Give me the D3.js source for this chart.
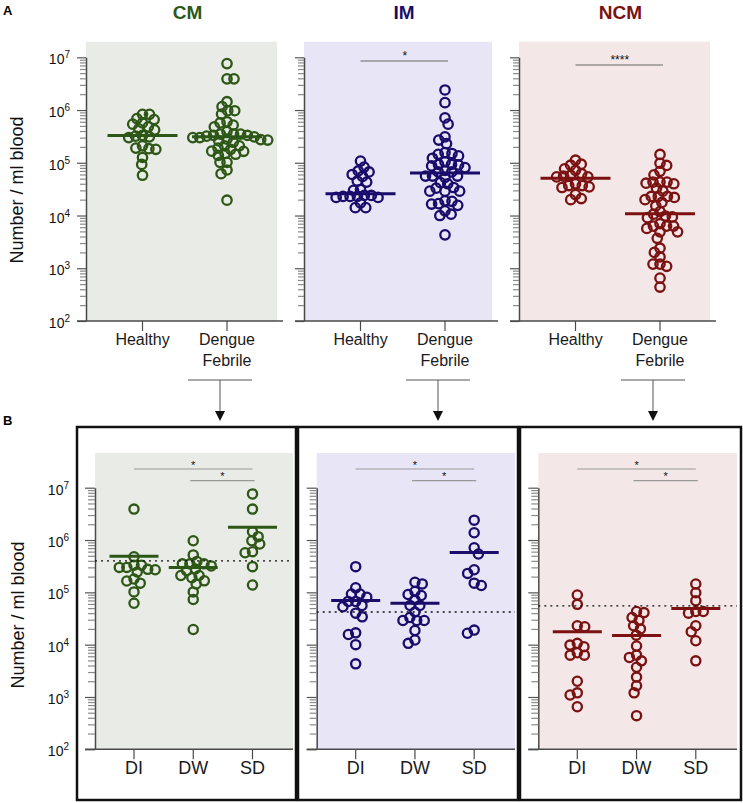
<!DOCTYPE html>
<html>
<head>
<meta charset="utf-8">
<script src="https://cdn.jsdelivr.net/npm/d3@7"></script>
<style>
  body { margin: 0; background: #fff; }
  svg { display: block; font-family: "Liberation Sans", Arial, sans-serif; }
</style>
</head>
<body>
<svg id="chart" width="743" height="803"></svg>
<script>
// ---- data (cells / ml blood) ----
const groups = ["CM", "IM", "NCM"];
const groupColors = ["#2d5716", "#190c6b", "#7b1111"];
const panelFills = ["#e9ebe6", "#e8e5f6", "#f3e7e8"];
const topCategories = ["Healthy", "Dengue Febrile"];
const subCategories = ["DI", "DW", "SD"];

const cmHealthy = [8.3e5, 6.9e5, 8.3e5, 6.6e5, 4.4e5, 5.4e5, 5.7e5, 4.8e5, 4.2e5, 3.1e5, 3.2e5, 3.3e5, 3.0e5, 1.9e5, 2.1e5, 1.85e5, 1.8e5, 1.26e5, 9.3e4, 5.8e4];
const imHealthy = [1.08e5, 8.3e4, 6.7e4, 7.0e4, 5.5e4, 6.0e4, 4.5e4, 4.3e4, 3.1e4, 3.0e4, 2.3e4, 2.2e4, 2.3e4, 2.2e4, 2.4e4, 2.3e4, 2.4e4, 1.73e4, 1.41e4, 1.41e4];
const ncmHealthy = [1.12e5, 9.0e4, 9.4e4, 7.7e4, 7.2e4, 5.4e4, 5.8e4, 5.6e4, 6.2e4, 5.4e4, 3.4e4, 3.7e4, 3.5e4, 3.7e4, 4.0e4, 2.0e4, 2.1e4, 2.5e4];

const cmDI = [3.9e6, 4.8e5, 3.0e5, 2.75e5, 3.3e5, 3.0e5, 3.3e5, 2.45e5, 2.7e5, 1.65e5, 1.8e5, 1.5e5, 1.02e5, 6.2e4];
const cmDW = [9.7e5, 5.2e5, 3.5e5, 3.5e5, 3.5e5, 3.9e5, 3.2e5, 2.1e5, 2.8e5, 2.1e5, 2.6e5, 1.66e5, 1.9e5, 1.45e5, 1.02e5, 7.3e4, 1.95e4];
const cmSD = [7.6e6, 3.9e6, 1.44e6, 1.16e6, 9.7e5, 8.4e5, 6.0e5, 5.7e5, 3.1e5, 1.38e5];
const imDI = [3.1e5, 1.22e5, 9.3e4, 8.1e4, 9.3e4, 6.7e4, 6.7e4, 5.6e4, 5.3e4, 4.0e4, 3.4e4, 1.68e4, 1.56e4, 1.0e4, 4.3e3];
const imDW = [1.56e5, 1.45e5, 1.04e5, 9.1e4, 8.7e4, 7.2e4, 5.6e4, 5.6e4, 4.2e4, 3.3e4, 2.9e4, 2.9e4, 2.9e4, 1.86e4, 1.23e4, 1.06e4];
const imSD = [2.4e6, 1.38e6, 7.1e5, 5.4e5, 2.7e5, 2.3e5, 1.5e5, 1.35e5, 1.9e4, 1.65e4];
const ncmDI = [8.9e4, 5.9e4, 2.2e4, 2.3e4, 9.8e3, 1.06e4, 9.1e3, 7.0e3, 6.3e3, 6.3e3, 2.0e3, 1.2e3, 1.09e3, 6.5e2];
const ncmDW = [4.1e4, 4.3e4, 3.3e4, 2.9e4, 2.0e4, 2.3e4, 1.52e4, 9.4e3, 6.3e3, 4.9e3, 5.7e3, 3.7e3, 2.4e3, 1.64e3, 1.2e3, 4.4e2];
const ncmSD = [1.44e5, 9.8e4, 6.9e4, 4.0e4, 4.3e4, 4.3e4, 2.3e4, 1.77e4, 1.19e4, 4.9e3];

// horizontal bars drawn over each column
const cmTopBars = [3.3e5, 3.1e5];
const imTopBars = [2.6e4, 6.4e4];
const ncmTopBars = [5.1e4, 1.08e4];
const cmSubBars = [4.9e5, 3.0e5, 1.75e6];
const imSubBars = [7.0e4, 6.2e4, 5.8e5];
const ncmSubBars = [1.77e4, 1.5e4, 4.9e4];
// dotted reference line in panel B
const referenceLevels = [4.0e5, 4.2e4, 5.5e4];

const topStars = ["", "*", "****"];
const subComparisons = [["DI", "SD", "*"], ["DW", "SD", "*"]];

const healthy = [cmHealthy, imHealthy, ncmHealthy];
const subsets = [[cmDI, cmDW, cmSD], [imDI, imDW, imSD], [ncmDI, ncmDW, ncmSD]];
const topBars = [cmTopBars, imTopBars, ncmTopBars];
const subBars = [cmSubBars, imSubBars, ncmSubBars];

// ---- layout ----
const svg = d3.select("#chart");
const topRow = {yTop: 57.3, yBottom: 321, bgTop: 41.7, axes: [86, 304, 519], rights: [277, 492, 710],
  catRange: [56.5, 141], labelGap: 16, tick: 9, xLeft: 9, xRight: 6, barW: 70, r: 4.7, gap: 7};
const subRow = {yTop: 487.7, yBottom: 749.3, bgTop: 453, axes: [95, 316.7, 538.3], rights: [293, 515, 737],
  catRange: [39, 157.5], labelGap: 26, tick: 10, xLeft: 10, xRight: 0, barW: 49, r: 4.6, gap: 7.5};
const boxes = [[77, 296], [298, 518], [520, 741]];

const isDecade = v => Math.abs(Math.log10(v) - Math.round(Math.log10(v))) < 1e-9;

// simple beeswarm: keep y, push x sideways until circles stop colliding
function swarm(values, y, cx, d) {
  const nodes = values.map(v => ({v, y: y(v)})).sort((a, b) => a.y - b.y);
  const placed = [];
  let side = 0;
  for (const n of nodes) {
    const cands = [0];
    for (const p of placed) {
      const dy = Math.abs(p.y - n.y);
      if (dy < d) {
        const dx = Math.sqrt(d * d - dy * dy);
        cands.push(p.dx + dx, p.dx - dx);
      }
    }
    cands.sort((a, b) => Math.abs(a) - Math.abs(b) || (side > 0 ? a - b : b - a));
    n.dx = cands.find(c => placed.every(p => (p.dx - c) ** 2 + (p.y - n.y) ** 2 >= d * d - 0.01));
    side += n.dx;
    placed.push(n);
  }
  return nodes.map(n => ({v: n.v, x: cx + n.dx, y: n.y}));
}

function drawPanel(row, i, cats, columns, bars, withLabels) {
  const x0 = row.axes[i], x1 = row.rights[i];
  const color = groupColors[i];
  const g = svg.append("g");
  const y = d3.scaleLog().domain([1e2, 1e7]).range([row.yBottom, row.yTop]);
  const x = d3.scalePoint().domain(cats).range([x0 + row.catRange[0], x0 + row.catRange[1]]);

  g.append("rect")
    .attr("x", x0).attr("y", row.bgTop)
    .attr("width", x1 - x0).attr("height", row.yBottom - row.bgTop)
    .attr("fill", panelFills[i]);

  // y axis
  const ax = g.append("g")
    .attr("transform", `translate(${x0},0)`)
    .call(d3.axisLeft(y).tickValues(y.ticks()).tickFormat("").tickSizeOuter(0));
  ax.select(".domain").attr("stroke", "#4a4a4a").attr("stroke-width", 1.5);
  ax.selectAll(".tick line")
    .attr("x2", d => isDecade(d) ? -row.tick : -row.tick + 3)
    .attr("stroke", d => isDecade(d) ? "#555" : "#8a8a8a")
    .attr("stroke-width", 1.2);
  if (withLabels) {
    const lab = g.append("g").selectAll("text")
      .data(y.ticks().filter(isDecade))
      .join("text")
        .attr("x", x0 - row.labelGap)
        .attr("y", d => y(d) + 7)
        .attr("text-anchor", "end")
        .attr("font-size", 14)
        .attr("fill", "#111");
    lab.append("tspan").text("10");
    lab.append("tspan").attr("dy", -6).attr("font-size", 10).text(d => Math.round(Math.log10(d)));
  }

  // x axis
  g.append("line")
    .attr("x1", x0 - row.xLeft).attr("x2", x1 + row.xRight)
    .attr("y1", row.yBottom).attr("y2", row.yBottom)
    .attr("stroke", "#4a4a4a").attr("stroke-width", 1.5);
  g.append("g").selectAll("line")
    .data(cats)
    .join("line")
      .attr("x1", d => x(d)).attr("x2", d => x(d))
      .attr("y1", row.yBottom).attr("y2", row.yBottom + 10)
      .attr("stroke", "#4a4a4a").attr("stroke-width", 1.2);

  // points
  cats.forEach((c, k) => {
    const pts = swarm(columns[k], y, x(c), row.gap);
    g.append("g").selectAll("circle")
      .data(pts)
      .join("circle")
        .attr("cx", d => d.x).attr("cy", d => d.y)
        .attr("r", row.r)
        .attr("fill", "none")
        .attr("stroke", color)
        .attr("stroke-width", 2.3);
  });

  // centre bars
  g.append("g").selectAll("line")
    .data(cats)
    .join("line")
      .attr("x1", d => x(d) - row.barW / 2).attr("x2", d => x(d) + row.barW / 2)
      .attr("y1", (d, k) => y(bars[k])).attr("y2", (d, k) => y(bars[k]))
      .attr("stroke", color).attr("stroke-width", 3);

  return {g, x, y};
}

// ---- panel A ----
groups.forEach((name, i) => {
  const {g, x} = drawPanel(topRow, i, topCategories, [healthy[i], subsets[i].flat()], topBars[i], i === 0);
  const x0 = topRow.axes[i], x1 = topRow.rights[i];

  svg.append("text")
    .attr("x", (x0 + x1) / 2 + 6).attr("y", 18.5)
    .attr("text-anchor", "middle")
    .attr("font-size", 19).attr("font-weight", "bold")
    .attr("fill", groupColors[i])
    .text(name);

  const lab = g.append("g").selectAll("text")
    .data(topCategories)
    .join("text")
      .attr("x", d => x(d)).attr("y", 345)
      .attr("text-anchor", "middle")
      .attr("font-size", 16).attr("fill", "#1a1a1a");
  lab.each(function(d) {
    const words = d.split(" ");
    d3.select(this).selectAll("tspan").data(words).join("tspan")
      .attr("x", x(d)).attr("dy", (w, j) => j ? 20.7 : 0).text(w => w);
  });

  if (topStars[i]) {
    const sy = i === 1 ? 61 : 65;
    g.append("line")
      .attr("x1", x(topCategories[0])).attr("x2", x(topCategories[1]) + 3)
      .attr("y1", sy).attr("y2", sy)
      .attr("stroke", "#666").attr("stroke-width", 1);
    g.append("text")
      .attr("x", (x(topCategories[0]) + x(topCategories[1])) / 2 + 2).attr("y", sy - 1)
      .attr("text-anchor", "middle").attr("font-size", 12).attr("fill", "#111")
      .text(topStars[i]);
  }

  // arrow down to panel B
  const ax = x(topCategories[1]) - 7;
  svg.append("line").attr("x1", ax - 32).attr("x2", ax + 32).attr("y1", 380).attr("y2", 380)
    .attr("stroke", "#aaa").attr("stroke-width", 1.8);
  svg.append("line").attr("x1", ax).attr("x2", ax).attr("y1", 380).attr("y2", 412)
    .attr("stroke", "#555").attr("stroke-width", 1);
  svg.append("path")
    .attr("d", d3.line()([[ax - 5, 411], [ax + 5, 411], [ax, 421]]) + "Z")
    .attr("fill", "#111");
});

// ---- panel B ----
groups.forEach((name, i) => {
  const {g, x, y} = drawPanel(subRow, i, subCategories, subsets[i], subBars[i], i === 0);
  const x0 = subRow.axes[i], x1 = subRow.rights[i];

  g.append("line")
    .attr("x1", x0).attr("x2", x1)
    .attr("y1", y(referenceLevels[i])).attr("y2", y(referenceLevels[i]))
    .attr("stroke", "#111").attr("stroke-width", 1.4)
    .attr("stroke-dasharray", "2,4");

  g.append("g").selectAll("text")
    .data(subCategories)
    .join("text")
      .attr("x", d => x(d)).attr("y", 774)
      .attr("text-anchor", "middle")
      .attr("font-size", 18).attr("fill", "#1a1a1a")
      .text(d => d);

  subComparisons.forEach(([a, b, s], k) => {
    const sy = 469 + k * 11.7;
    const xa = x(a) - (k ? 3 : 0), xb = x(b) + (k ? 2 : 0);
    g.append("line").attr("x1", xa).attr("x2", xb).attr("y1", sy).attr("y2", sy)
      .attr("stroke", "#999").attr("stroke-width", 1.2);
    g.append("text").attr("x", (xa + xb) / 2).attr("y", sy - 0.5)
      .attr("text-anchor", "middle").attr("font-size", 11).attr("fill", "#111").text(s);
  });

  svg.append("rect")
    .attr("x", boxes[i][0]).attr("y", 427)
    .attr("width", boxes[i][1] - boxes[i][0]).attr("height", 373)
    .attr("fill", "none").attr("stroke", "#111").attr("stroke-width", 2.5);
});

// axis titles and panel letters
[[23, 190], [24, 615]].forEach(([tx, ty]) => {
  svg.append("text")
    .attr("transform", `translate(${tx},${ty}) rotate(-90)`)
    .attr("text-anchor", "middle")
    .attr("font-size", 18).attr("fill", "#111")
    .text("Number / ml blood");
});
svg.append("text").attr("x", 3).attr("y", 15).attr("font-size", 13).attr("font-weight", "bold").text("A");
svg.append("text").attr("x", 3).attr("y", 425).attr("font-size", 13).attr("font-weight", "bold").text("B");
</script>
</body>
</html>
